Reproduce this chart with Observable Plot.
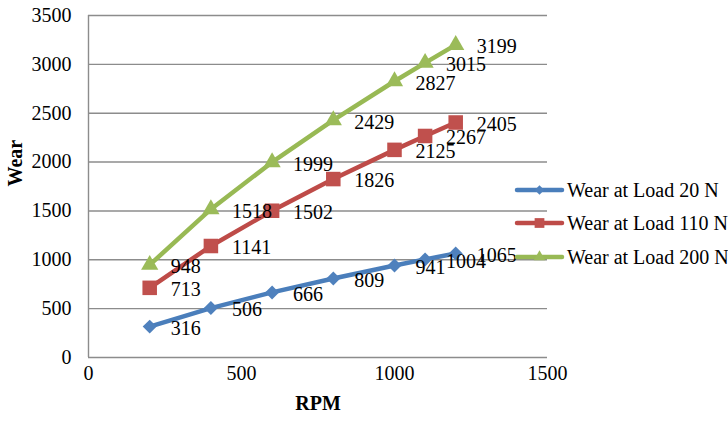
<!DOCTYPE html>
<html>
<head>
<meta charset="utf-8">
<script src="https://cdn.jsdelivr.net/npm/d3@7"></script>
<script src="https://cdn.jsdelivr.net/npm/@observablehq/plot@0.6"></script>
<style>
  html, body { margin: 0; padding: 0; background: #fff; }
  #chart { width: 728px; height: 421px; }
</style>
</head>
<body>
<div id="chart"></div>
<script>
const rpm = [200, 400, 600, 800, 1000, 1100, 1200];
const wear20 = [316, 506, 666, 809, 941, 1004, 1065];
const wear110 = [713, 1141, 1502, 1826, 2125, 2267, 2405];
const wear200 = [948, 1518, 1999, 2429, 2827, 3015, 3199];
const seriesNames = ["Wear at Load 20 N", "Wear at Load 110 N", "Wear at Load 200 N"];
const xTicks = [0, 500, 1000, 1500];
const yTicks = [0, 500, 1000, 1500, 2000, 2500, 3000, 3500];

const lineColors = ["#4a7ebb", "#be4b48", "#98b954"];
const markColors = ["#4f81bd", "#c0504d", "#9bbb59"];
const symbols = ["diamond2", "square", "triangle"];
const radii = [6.3, 8.2, 6.4];

const allValues = [wear20, wear110, wear200];
const data = allValues.flatMap((vals, i) =>
  vals.map((v, j) => ({ rpm: rpm[j], wear: v, series: seriesNames[i], idx: i })));

const font = "Liberation Serif";
const fs = 20;
const fmt = d => String(d);
const marks = [
  Plot.ruleY(yTicks.filter(d => d > 0), { stroke: "#8c8c8c", strokeWidth: 1.4 }),
  Plot.ruleY([0], { stroke: "#8c8c8c", strokeWidth: 1.4 }),
  Plot.ruleX([0], { stroke: "#8c8c8c", strokeWidth: 1.4 }),
  Plot.axisX({ ticks: xTicks, tickFormat: fmt, tickSize: 0, tickPadding: 8, label: null, fontSize: fs, fontFamily: font }),
  Plot.axisY({ ticks: yTicks, tickFormat: fmt, tickSize: 0, tickPadding: 17, label: null, fontSize: fs, fontFamily: font }),
];
seriesNames.forEach((name, i) => {
  const d = data.filter(r => r.idx === i);
  marks.push(Plot.line(d, { x: "rpm", y: "wear", stroke: lineColors[i], strokeWidth: 4.5 }));
  marks.push(Plot.dot(d, { x: "rpm", y: "wear", symbol: () => symbols[i], r: radii[i], fill: markColors[i], stroke: "none" }));
});
seriesNames.forEach((name, i) => {
  const d = data.filter(r => r.idx === i);
  marks.push(Plot.text(d, { x: "rpm", y: "wear", text: r => String(r.wear), textAnchor: "start", dx: 21, dy: 2, fontSize: fs, fontFamily: font, fill: "#000" }));
});
marks.push(Plot.text(["RPM"], { frameAnchor: "bottom", dy: 52, fontWeight: "bold", fontSize: fs, fontFamily: font, fill: "#000" }));
marks.push(Plot.text(["Wear"], { frameAnchor: "left", dx: -73, rotate: -90, fontWeight: "bold", fontSize: fs, fontFamily: font, fill: "#000" }));

const plot = Plot.plot({
  width: 728,
  height: 421,
  marginLeft: 88,
  marginRight: 181,
  marginTop: 15,
  marginBottom: 64,
  x: { domain: [0, 1500] },
  y: { domain: [0, 3500] },
  style: { fontSize: fs + "px", color: "#000", background: "#fff" },
  marks
});
document.getElementById("chart").appendChild(plot);

// Legend drawn into the same SVG
const svg = d3.select(plot);
const legendYs = [190, 223, 257];
const leg = svg.append("g").attr("font-size", fs).attr("font-family", font).attr("text-anchor", "start");
seriesNames.forEach((name, i) => {
  const g = leg.append("g").attr("transform", `translate(517,${legendYs[i]})`);
  g.append("line").attr("x1", 0).attr("x2", 45).attr("y1", 0).attr("y2", 0)
    .attr("stroke", lineColors[i]).attr("stroke-width", 4.5).attr("stroke-linecap", "round");
  const sym = { diamond2: d3.symbolDiamond2, square: d3.symbolSquare, triangle: d3.symbolTriangle }[symbols[i]];
  g.append("path").attr("transform", "translate(22.5,0)")
    .attr("d", d3.symbol(sym, radii[i] * radii[i] * Math.PI * 0.45)())
    .attr("fill", markColors[i]);
  g.append("text").attr("x", 50).attr("y", 0).attr("dy", "0.35em").attr("text-anchor", "start")
    .attr("font-family", font).attr("fill", "#000").text(name);
});
</script>
</body>
</html>
